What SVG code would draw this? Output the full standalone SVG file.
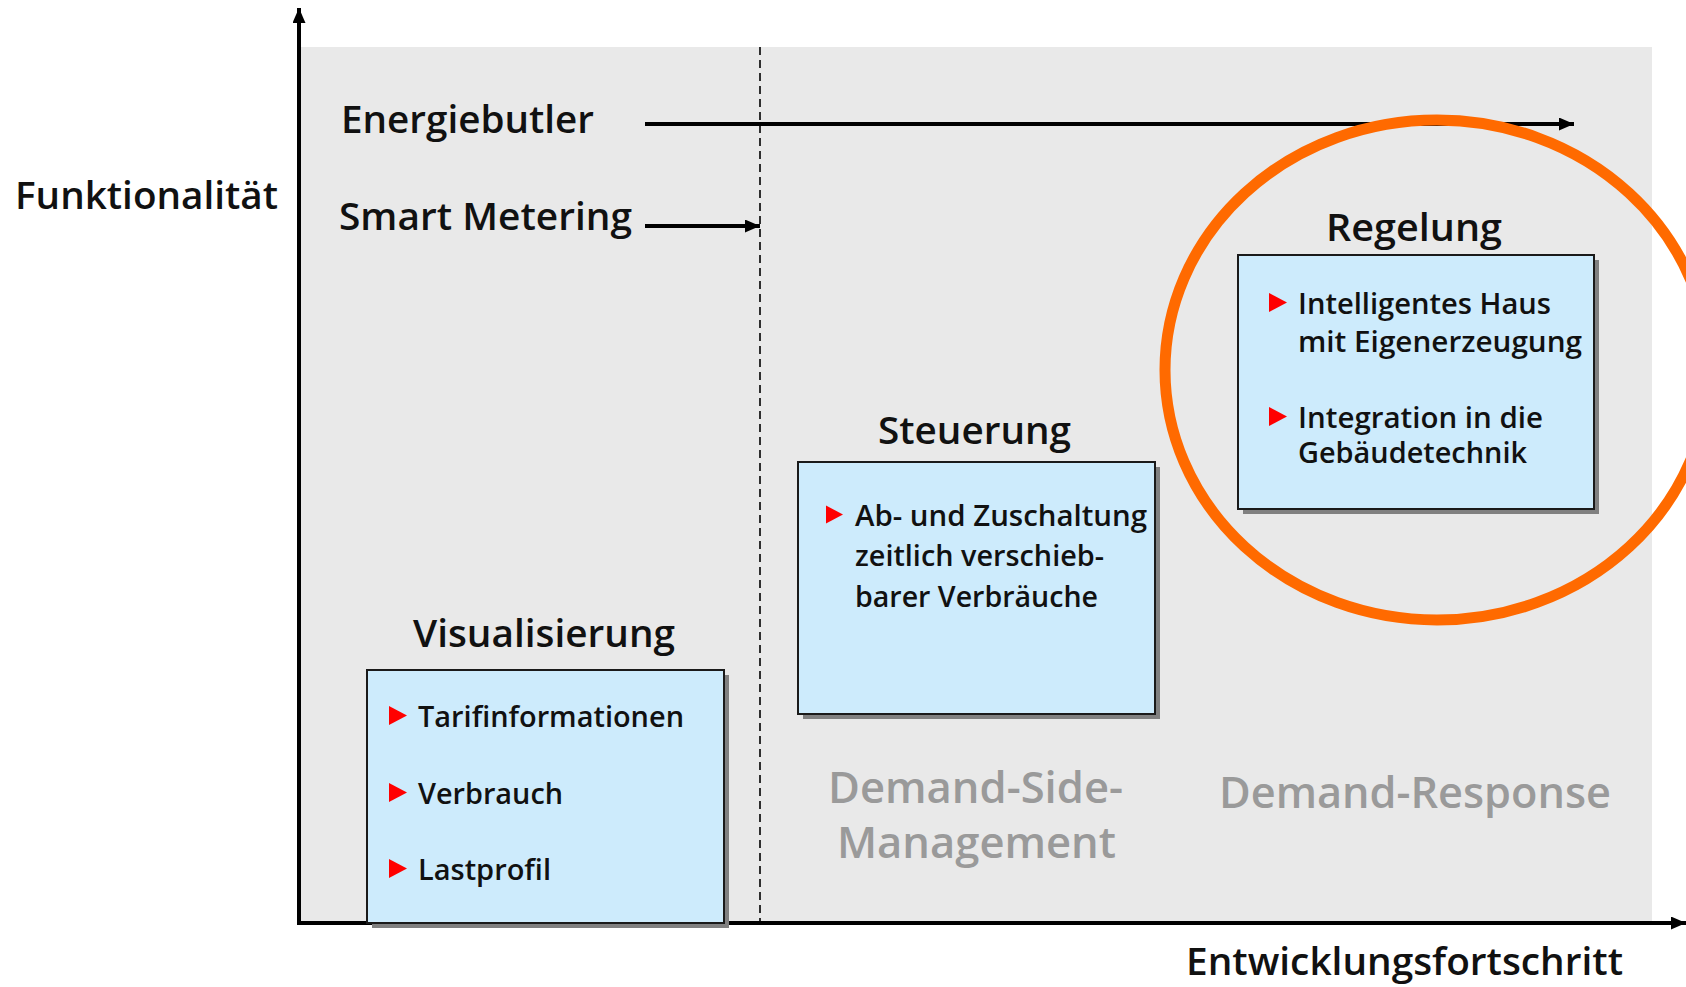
<svg xmlns="http://www.w3.org/2000/svg" width="1686" height="987" viewBox="0 0 1686 987">
<defs>
<style>
text{font-family:"Open Sans","Noto Sans","Liberation Sans",sans-serif;font-weight:600;fill:#111}
.t38{font-size:37px}
.t29{font-size:28px}
.dm{font-size:43px;fill:#9a9a9a;font-weight:600}
.box{fill:#cdebfc;stroke:#1a1a1a;stroke-width:2}
.shadow{fill:#808080}
.bul{fill:#ff0000}
.ln{stroke:#000;stroke-width:4;fill:none}
</style>
<marker id="ah" markerUnits="userSpaceOnUse" viewBox="0 0 15 13" refX="15" refY="6.5" markerWidth="15" markerHeight="13" orient="auto">
<path d="M0,0 L15,6.5 L0,13 z" fill="#000"/>
</marker>
<symbol id="tri" viewBox="0 0 18 19" overflow="visible"><path d="M0,0 L18,9.5 L0,19 z" class="bul"/></symbol>
</defs>
<rect x="0" y="0" width="1686" height="987" fill="#fff"/>
<rect id="plot" x="301" y="47" width="1351" height="876" fill="#e9e9e9"/>
<g id="connectors">
<line class="ln" x1="299" y1="925" x2="299" y2="8" marker-end="url(#ah)"/>
<line class="ln" x1="299" y1="923" x2="1686" y2="923" marker-end="url(#ah)"/>
<line x1="760" y1="47" x2="760" y2="923" stroke="#000" stroke-width="1.6" stroke-dasharray="8,5"/>
<line class="ln" x1="645" y1="124" x2="1574" y2="124" marker-end="url(#ah)"/>
<line class="ln" x1="645" y1="226" x2="760" y2="226" marker-end="url(#ah)"/>
</g>
<g id="axis-labels">
<text class="t38" x="15" y="209" textLength="263" lengthAdjust="spacingAndGlyphs">Funktionalität</text>
<text class="t38" x="1186" y="975" textLength="437" lengthAdjust="spacingAndGlyphs">Entwicklungsfortschritt</text>
</g>
<g id="energiebutler"><text class="t38" x="341" y="133" textLength="253" lengthAdjust="spacingAndGlyphs">Energiebutler</text></g>
<g id="smart-metering"><text class="t38" x="339" y="230" textLength="293" lengthAdjust="spacingAndGlyphs">Smart Metering</text></g>
<g id="visualisierung">
<text class="t38" x="413" y="647" textLength="262" lengthAdjust="spacingAndGlyphs">Visualisierung</text>
<rect class="shadow" x="372" y="675" width="357" height="253"/>
<rect class="box" x="367" y="670" width="357" height="253"/>
<use href="#tri" x="389" y="706" width="18" height="19"/>
<use href="#tri" x="389" y="783" width="18" height="19"/>
<use href="#tri" x="389" y="859" width="18" height="19"/>
<text class="t29" x="418" y="727" textLength="266" lengthAdjust="spacingAndGlyphs">Tarifinformationen</text>
<text class="t29" x="418" y="804" textLength="145" lengthAdjust="spacingAndGlyphs">Verbrauch</text>
<text class="t29" x="418" y="880" textLength="133" lengthAdjust="spacingAndGlyphs">Lastprofil</text>
</g>
<g id="steuerung">
<text class="t38" x="878" y="444" textLength="193" lengthAdjust="spacingAndGlyphs">Steuerung</text>
<rect class="shadow" x="803" y="467" width="357" height="252"/>
<rect class="box" x="798" y="462" width="357" height="252"/>
<use href="#tri" x="826" y="505" width="17" height="19"/>
<text class="t29" x="855" y="526" textLength="292" lengthAdjust="spacingAndGlyphs">Ab- und Zuschaltung</text>
<text class="t29" x="855" y="566" textLength="249" lengthAdjust="spacingAndGlyphs">zeitlich verschieb-</text>
<text class="t29" x="855" y="607" textLength="243" lengthAdjust="spacingAndGlyphs">barer Verbräuche</text>
</g>
<g id="demand-side-management">
<text class="dm" x="828" y="803" textLength="295" lengthAdjust="spacingAndGlyphs">Demand-Side-</text>
<text class="dm" x="837" y="858" textLength="279" lengthAdjust="spacingAndGlyphs">Management</text>
</g>
<g id="demand-response">
<text class="dm" x="1219" y="808" textLength="392" lengthAdjust="spacingAndGlyphs">Demand-Response</text>
</g>
<g id="regelung">
<text class="t38" x="1326" y="241" textLength="176" lengthAdjust="spacingAndGlyphs">Regelung</text>
<rect class="shadow" x="1243" y="260" width="356" height="254"/>
<rect class="box" x="1238" y="255" width="356" height="254"/>
<use href="#tri" x="1269" y="293" width="18" height="19"/>
<use href="#tri" x="1269" y="407" width="18" height="19"/>
<text class="t29" x="1298" y="314" textLength="253" lengthAdjust="spacingAndGlyphs">Intelligentes Haus</text>
<text class="t29" x="1298" y="352" textLength="284" lengthAdjust="spacingAndGlyphs">mit Eigenerzeugung</text>
<text class="t29" x="1298" y="428" textLength="245" lengthAdjust="spacingAndGlyphs">Integration in die</text>
<text class="t29" x="1298" y="463" textLength="229" lengthAdjust="spacingAndGlyphs">Gebäudetechnik</text>
</g>
<g id="highlight">
<ellipse cx="1437" cy="370" rx="272" ry="250" fill="none" stroke="#ff6a00" stroke-width="11"/>
</g>
</svg>
